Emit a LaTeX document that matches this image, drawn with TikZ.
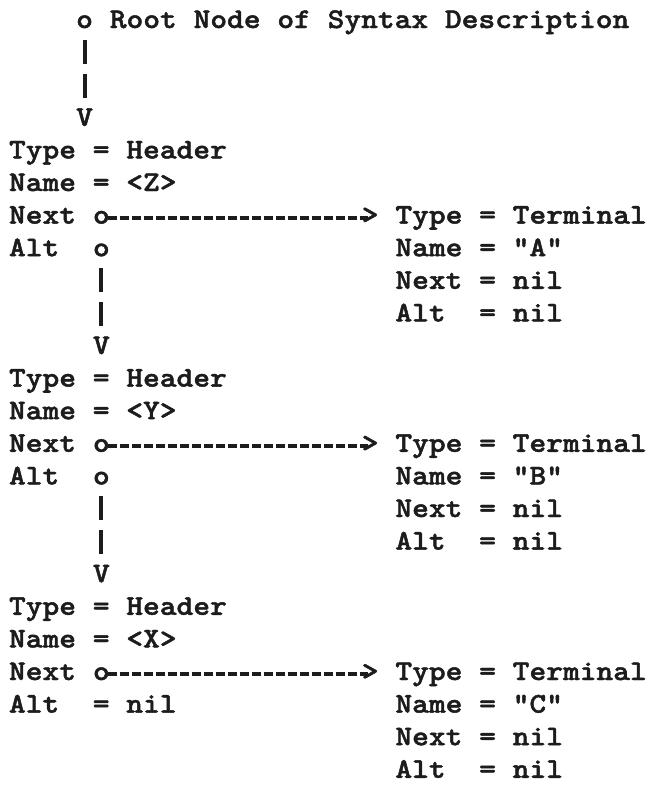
\documentclass[tikz,border=0pt]{standalone}
\usepackage{fontspec}
\newfontfamily\tw{lmmonolt10-bold.otf}[FakeStretch=1.12, FakeBold=1.6]
\definecolor{ink}{RGB}{28,28,28}
\begin{document}
\begin{tikzpicture}[x=1pt,y=-1pt,
  txt/.style={font=\tw\fontsize{28.5}{33}\selectfont, anchor=base west, inner sep=0pt, outer sep=0pt, text=ink},
  tip/.style={txt, text height=12pt, text depth=0pt},
  bar/.style={draw=ink, line width=4pt, dash pattern=on 24pt off 10pt, shorten <=12pt, shorten >=16pt},
  dashln/.style={draw=ink, line width=4pt, dash pattern=on 9pt off 3pt, shorten <=-2pt, shorten >=-6pt}]
\useasboundingbox[fill=white] (0,0) rectangle (648,790);
\def\P{32.6}
% root
\node[tip] (r0) at (76.2,28) {o};
\node[txt] (rlab) at (109.8,28) {Root Node of Syntax Description};
\node[tip] (v0) at (76.2,{28+\P*3}) {V};
\draw[bar] (r0.south) -- (v0.north);
% header Z
\node[txt] (h1t) at (9,{28+\P*4}) {Type = Header};
\node[txt] (h1n) at (9,{28+\P*5}) {Name = <Z>};
\node[txt] (h1x) at (9,{28+\P*6}) {Next};
\node[tip] (h1xo) at (93,{28+\P*6}) {o};
\node[tip] (h1gt) at (361.8,{28+\P*6}) {>};
\node[txt] (h1a) at (9,{28+\P*7}) {Alt};
\node[tip] (h1ao) at (93,{28+\P*7}) {o};
\node[tip] (v1) at (93,{28+\P*10}) {V};
\draw[dashln] (h1xo.east) -- (h1gt.west);
\draw[bar] (h1ao.south) -- (v1.north);
% terminal A
\node[txt] (t1t) at (395.4,{28+\P*6}) {Type = Terminal};
\node[txt] (t1n) at (395.4,{28+\P*7}) {Name = "A"};
\node[txt] (t1x) at (395.4,{28+\P*8}) {Next = nil};
\node[txt] (t1a) at (395.4,{28+\P*9}) {Alt\ \ = nil};
% header Y
\node[txt] (h2t) at (9,{28+\P*11}) {Type = Header};
\node[txt] (h2n) at (9,{28+\P*12}) {Name = <Y>};
\node[txt] (h2x) at (9,{28+\P*13}) {Next};
\node[tip] (h2xo) at (93,{28+\P*13}) {o};
\node[tip] (h2gt) at (361.8,{28+\P*13}) {>};
\node[txt] (h2a) at (9,{28+\P*14}) {Alt};
\node[tip] (h2ao) at (93,{28+\P*14}) {o};
\node[tip] (v2) at (93,{28+\P*17}) {V};
\draw[dashln] (h2xo.east) -- (h2gt.west);
\draw[bar] (h2ao.south) -- (v2.north);
% terminal B
\node[txt] (t2t) at (395.4,{28+\P*13}) {Type = Terminal};
\node[txt] (t2n) at (395.4,{28+\P*14}) {Name = "B"};
\node[txt] (t2x) at (395.4,{28+\P*15}) {Next = nil};
\node[txt] (t2a) at (395.4,{28+\P*16}) {Alt\ \ = nil};
% header X
\node[txt] (h3t) at (9,{28+\P*18}) {Type = Header};
\node[txt] (h3n) at (9,{28+\P*19}) {Name = <X>};
\node[txt] (h3x) at (9,{28+\P*20}) {Next};
\node[tip] (h3xo) at (93,{28+\P*20}) {o};
\node[tip] (h3gt) at (361.8,{28+\P*20}) {>};
\node[txt] (h3a) at (9,{28+\P*21}) {Alt\ \ = nil};
\draw[dashln] (h3xo.east) -- (h3gt.west);
% terminal C
\node[txt] (t3t) at (395.4,{28+\P*20}) {Type = Terminal};
\node[txt] (t3n) at (395.4,{28+\P*21}) {Name = "C"};
\node[txt] (t3x) at (395.4,{28+\P*22}) {Next = nil};
\node[txt] (t3a) at (395.4,{28+\P*23}) {Alt\ \ = nil};
\end{tikzpicture}
\end{document}
